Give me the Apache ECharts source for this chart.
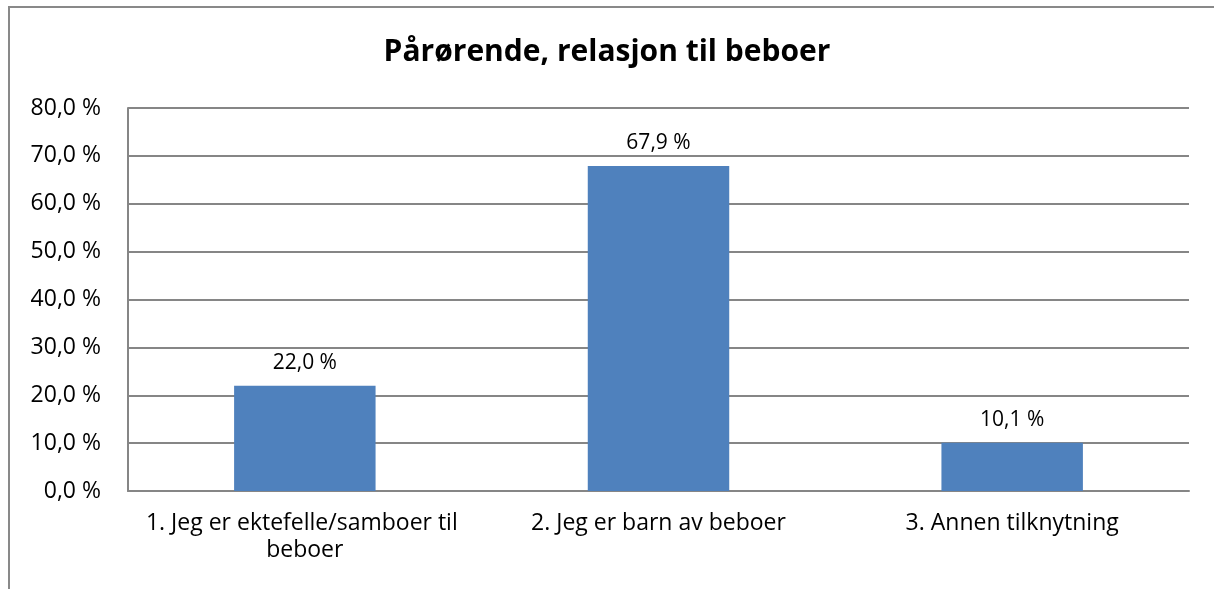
<!DOCTYPE html>
<html>
<head>
<meta charset="utf-8">
<script src="https://cdn.jsdelivr.net/npm/echarts@6/dist/echarts.min.js"></script>
<style>
  html, body { margin: 0; padding: 0; background: #fff; }
  #frame { position: absolute; left: 8px; top: 6px; width: 1220px; height: 600px; border-left: 2px solid #898989; border-top: 2px solid #898989; box-sizing: border-box; }
  #chart { position: absolute; left: 0; top: 0; width: 1214px; height: 589px; }
</style>
</head>
<body>
<div id="frame"></div>
<div id="chart"></div>
<script>
const categories = ['1. Jeg er ektefelle/samboer til beboer', '2. Jeg er barn av beboer', '3. Annen tilknytning'];
const values = [22.0, 67.9, 10.1];

const fontFamily = '"Open Sans", "Liberation Sans", sans-serif';
const fmt = v => v.toFixed(1).replace('.', ',') + ' %';

const chart = echarts.init(document.getElementById('chart'));
chart.setOption({
    animation: false,
    title: {
        text: 'Pårørende, relasjon til beboer',
        left: 'center',
        top: 32,
        textStyle: { fontFamily: fontFamily, fontSize: 30, fontWeight: 'bold', color: '#000' }
    },
    grid: { left: 128, right: 25, top: 108, bottom: 98 },
    xAxis: {
        type: 'category',
        data: categories,
        axisLine: { lineStyle: { color: '#868686', width: 2 } },
        axisTick: { show: false },
        axisLabel: {
            interval: 0,
            color: '#000', fontFamily: fontFamily, fontSize: 23, margin: 19,
            width: 360, overflow: 'break', lineHeight: 27
        }
    },
    yAxis: {
        type: 'value',
        min: 0, max: 80, interval: 10,
        axisLine: { show: true, lineStyle: { color: '#868686', width: 2 } },
        axisTick: { show: false },
        splitLine: { lineStyle: { color: '#868686', width: 2 } },
        axisLabel: { color: '#000', fontFamily: fontFamily, fontSize: 23, margin: 27, formatter: v => fmt(v) }
    },
    series: [{
        type: 'bar',
        data: values,
        barWidth: '40%',
        itemStyle: { color: '#4F81BD' },
        label: {
            show: true, position: 'top', distance: 12,
            color: '#000', fontFamily: fontFamily, fontSize: 21,
            formatter: p => fmt(p.value)
        }
    }]
});
</script>
</body>
</html>
